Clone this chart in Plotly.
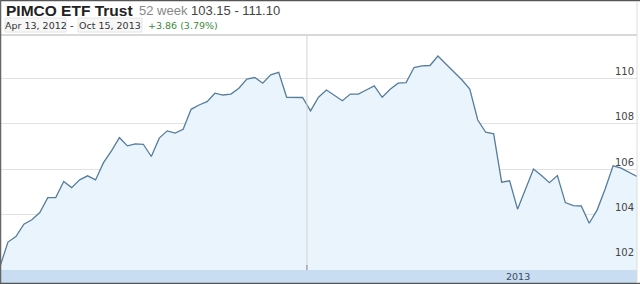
import plotly.graph_objects as go
import pandas as pd

W, H = 640, 284

values = [
    101.7, 102.78, 103.02, 103.57, 103.76, 104.08, 104.74, 104.74, 105.45, 105.18,
    105.52, 105.70, 105.52, 106.28, 106.80, 107.38, 107.02, 107.11, 107.09, 106.55,
    107.36, 107.68, 107.58, 107.75, 108.63, 108.82, 108.97, 109.34, 109.26, 109.30,
    109.56, 109.96, 110.03, 109.78, 110.15, 110.26, 109.16, 109.15, 109.15, 108.56,
    109.16, 109.48, 109.26, 109.01, 109.30, 109.30, 109.48, 109.66, 109.16, 109.51,
    109.78, 109.81, 110.47, 110.54, 110.56, 110.98, 110.63, 110.29, 109.93, 109.52,
    108.16, 107.62, 107.55, 105.42, 105.48, 104.23, 105.12, 106.00, 105.71, 105.40,
    105.71, 104.52, 104.39, 104.37, 103.61, 104.20, 105.12, 106.14, 106.04, 105.86,
    105.67,
]
start_date = "2012-04-13"
end_date = "2013-10-15"
dates = pd.date_range(start_date, end_date, periods=len(values))

y_ticks = [102, 104, 106, 108, 110]
title = "PIMCO ETF Trust"
week_label = "52 week"
week_range = "103.15 - 111.10"
date_from = "Apr 13, 2012"
date_to = "Oct 15, 2013"
change = "+3.86 (3.79%)"
year_label = "2013"

def py(px):
    return 1 - px / H

def pxx(px):
    return px / W

fig = go.Figure()
fig.add_trace(go.Scatter(
    x=dates, y=values, mode="lines",
    line=dict(color="#557d9c", width=1.3),
    fill="tozeroy", fillcolor="#eaf4fd",
    hoverinfo="skip",
))

plot_top, plot_bot, plot_right = 36, 270, 637

fig.update_layout(
    width=W, height=H,
    margin=dict(l=0, r=0, t=0, b=0),
    paper_bgcolor="white", plot_bgcolor="white",
    showlegend=False,
    xaxis=dict(
        domain=[0, plot_right / W],
        range=[dates[0], dates[-1]],
        showgrid=False, showticklabels=False, zeroline=False, ticks="",
    ),
    yaxis=dict(
        domain=[py(plot_bot), py(plot_top)],
        range=[101.55, 111.86],
        tickvals=y_ticks, ticktext=[str(v) for v in y_ticks],
        side="right", ticklabelposition="inside top",
        showgrid=True, gridcolor="#e2e2e2", gridwidth=1,
        zeroline=False, ticks="",
        tickfont=dict(family="DejaVu Sans", size=10, color="#444444"),
    ),
    font=dict(family="DejaVu Sans"),
)

# year divider
fig.add_shape(type="line", xref="x", yref="paper",
              x0="2013-01-03", x1="2013-01-03", y0=py(plot_bot), y1=py(plot_top),
              line=dict(color="#d4d4d4", width=1))
fig.add_shape(type="line", xref="x", yref="paper",
              x0="2013-01-03", x1="2013-01-03", y0=py(plot_bot), y1=py(plot_bot - 5),
              line=dict(color="#888888", width=1))

# bottom band
fig.add_shape(type="rect", xref="paper", yref="paper",
              x0=0, x1=pxx(plot_right), y0=py(283), y1=py(plot_bot),
              fillcolor="#c8ddf1", line=dict(width=0), layer="above")
fig.add_annotation(xref="x", yref="paper", x="2013-07-04", y=py(276.5),
                   text=year_label, showarrow=False, xanchor="center", yanchor="middle",
                   font=dict(family="DejaVu Sans", size=9.5, color="#3a4a5c"))

# header separator
fig.add_shape(type="line", xref="paper", yref="paper",
              x0=0, x1=pxx(plot_right), y0=py(35), y1=py(35),
              line=dict(color="#cccccc", width=1.5))
# borders
fig.add_shape(type="line", xref="paper", yref="paper",
              x0=0, x1=1, y0=py(0.5), y1=py(0.5), line=dict(color="#555555", width=1.5))
fig.add_shape(type="line", xref="paper", yref="paper",
              x0=pxx(0.5), x1=pxx(0.5), y0=0, y1=1, line=dict(color="#666666", width=1.5))
fig.add_shape(type="line", xref="paper", yref="paper",
              x0=0, x1=1, y0=py(283.5), y1=py(283.5), line=dict(color="#555555", width=1.5))
fig.add_shape(type="line", xref="paper", yref="paper",
              x0=pxx(plot_right), x1=pxx(plot_right), y0=py(283), y1=py(1),
              line=dict(color="#dddddd", width=1))

# header texts
fig.add_annotation(xref="paper", yref="paper", x=pxx(4), y=py(10.5),
                   text="<b>" + title + "</b>", showarrow=False,
                   xanchor="left", yanchor="middle",
                   font=dict(family="Liberation Sans", size=15.5, color="#222222"))
fig.add_annotation(xref="paper", yref="paper", x=pxx(137), y=py(10.5),
                   text="<span style='color:#888888'>" + week_label + "</span> " + week_range,
                   showarrow=False, xanchor="left", yanchor="middle",
                   font=dict(family="Liberation Sans", size=13, color="#444444"))

# date boxes
for txt, x0, x1 in [(date_from, 5, 66), (date_to, 78, 142)]:
    fig.add_shape(type="rect", xref="paper", yref="paper",
                  x0=pxx(x0), x1=pxx(x1), y0=py(32), y1=py(18),
                  fillcolor="#f7f7f7", line=dict(color="#e6e6e6", width=1))
    fig.add_annotation(xref="paper", yref="paper", x=pxx((x0 + x1) / 2), y=py(25),
                       text=txt, showarrow=False, xanchor="center", yanchor="middle",
                       font=dict(family="DejaVu Sans", size=9.5, color="#333333"))
fig.add_annotation(xref="paper", yref="paper", x=pxx(72), y=py(25),
                   text="-", showarrow=False, xanchor="center", yanchor="middle",
                   font=dict(family="DejaVu Sans", size=10, color="#333333"))
fig.add_annotation(xref="paper", yref="paper", x=pxx(146), y=py(25),
                   text=change, showarrow=False, xanchor="left", yanchor="middle",
                   font=dict(family="DejaVu Sans", size=9.5, color="#3c8a3c"))

fig.write_html("out.html")
